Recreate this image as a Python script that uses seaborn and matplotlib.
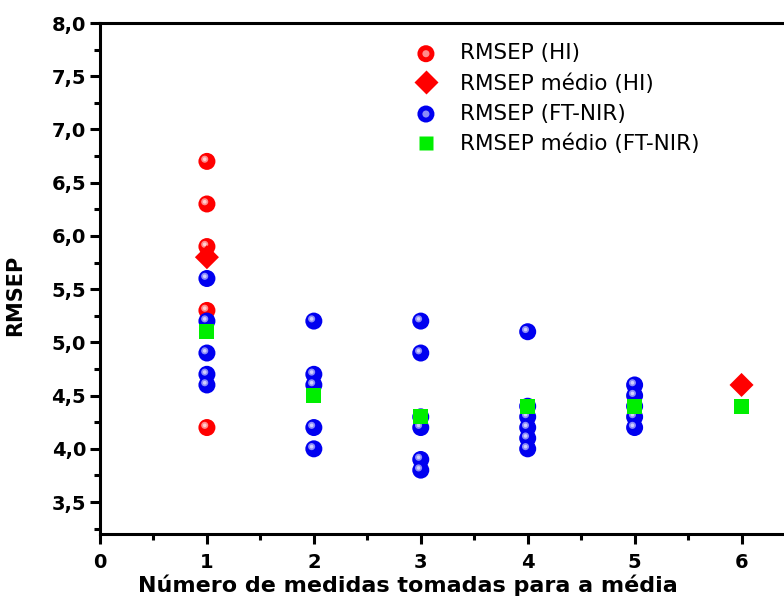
import matplotlib
matplotlib.use("Agg")
import matplotlib.pyplot as plt
import matplotlib.transforms as mtransforms
from matplotlib.ticker import MultipleLocator, FuncFormatter
from matplotlib.legend_handler import HandlerTuple
import seaborn as sns
import pandas as pd

# RMSEP of individual models, by number of measurements averaged
hi_x = [1, 1, 1, 1, 1]
hi_y = [6.7, 6.3, 5.9, 5.3, 4.2]

hi_mean_x = [1, 6]
hi_mean_y = [5.8, 4.6]

nir_x = [1, 1, 1, 1, 1,
         2, 2, 2, 2, 2,
         3, 3, 3, 3, 3, 3,
         4, 4, 4, 4, 4, 4,
         5, 5, 5, 5, 5]
nir_y = [5.6, 5.2, 4.9, 4.7, 4.6,
         5.2, 4.7, 4.6, 4.2, 4.0,
         5.2, 4.9, 4.2, 3.9, 3.8, 4.3,
         5.1, 4.4, 4.3, 4.2, 4.1, 4.0,
         4.6, 4.5, 4.4, 4.3, 4.2]

nir_mean_x = [1, 2, 3, 4, 5, 6]
nir_mean_y = [5.1, 4.5, 4.3, 4.4, 4.4, 4.4]

labels = ["RMSEP (HI)", "RMSEP médio (HI)", "RMSEP (FT-NIR)", "RMSEP médio (FT-NIR)"]

sns.set_theme(style="white")
plt.rcParams["font.family"] = ["DejaVu Sans"]
plt.rcParams["text.color"] = "black"
plt.rcParams["axes.labelcolor"] = "black"
plt.rcParams["xtick.color"] = "black"
plt.rcParams["ytick.color"] = "black"

fig = plt.figure(figsize=(7.84, 6.0), dpi=100)
ax = fig.add_axes([100 / 784, 66 / 600, 695 / 784, 511 / 600])

hi_df = pd.DataFrame({"x": hi_x, "y": hi_y})
hi_mean_df = pd.DataFrame({"x": hi_mean_x, "y": hi_mean_y})
nir_df = pd.DataFrame({"x": nir_x, "y": nir_y})
nir_mean_df = pd.DataFrame({"x": nir_mean_x, "y": nir_mean_y})

sphere_size = 150
shine = mtransforms.offset_copy(ax.transData, fig=fig, x=-2.2, y=2.2, units="dots")

def spheres(df, color, zorder):
    base = ax.scatter(df["x"], df["y"], s=sphere_size, c=color, edgecolors="none", zorder=zorder)
    glow = ax.scatter(df["x"], df["y"], s=26, c="#ffffff", alpha=0.55, edgecolors="none",
                      transform=shine, zorder=zorder + 0.1)
    ax.scatter(df["x"], df["y"], s=7, c="#ffffff", alpha=0.6, edgecolors="none",
               transform=shine, zorder=zorder + 0.2)
    return base, glow

h_hi = spheres(hi_df, "#ff0000", 3)
h_nir = spheres(nir_df, "#0000f0", 4)

sns.scatterplot(data=hi_mean_df, x="x", y="y", ax=ax, marker="D", s=150,
                color="#ff0000", edgecolor="none", zorder=5, legend=False)
sns.scatterplot(data=nir_mean_df, x="x", y="y", ax=ax, marker="s", s=115,
                color="#00ee00", edgecolor="none", zorder=6, legend=False)

h_hi_mean = plt.Line2D([], [], ls="none", marker="D", ms=12, mfc="#ff0000", mec="none")
h_nir_mean = plt.Line2D([], [], ls="none", marker="s", ms=10, mfc="#00ee00", mec="none")

ax.legend([h_hi, h_hi_mean, h_nir, h_nir_mean], labels,
          handler_map={tuple: HandlerTuple(ndivide=1)},
          loc="upper left", bbox_to_anchor=(0.438, 0.977), frameon=False,
          fontsize=15.5, handletextpad=1.0, labelspacing=0.46,
          borderaxespad=0, handlelength=1.2)

ax.set_xlim(0, 6.5)
ax.set_ylim(3.2, 8.0)
ax.xaxis.set_major_locator(MultipleLocator(1))
ax.xaxis.set_minor_locator(MultipleLocator(0.5))
ax.yaxis.set_major_locator(MultipleLocator(0.5))
ax.yaxis.set_minor_locator(MultipleLocator(0.25))
ax.yaxis.set_major_formatter(FuncFormatter(lambda v, p: f"{v:.1f}".replace(".", ",")))
ax.xaxis.set_major_formatter(FuncFormatter(lambda v, p: f"{v:.0f}"))

for s in ["left", "bottom", "top"]:
    ax.spines[s].set_visible(True)
    ax.spines[s].set_linewidth(2.2)
    ax.spines[s].set_color("black")
ax.spines["right"].set_visible(False)

ax.tick_params(axis="both", which="major", direction="out", length=7, width=2.2,
               labelsize=14, left=True, bottom=True, top=False, right=False, pad=3)
ax.tick_params(axis="x", which="major", pad=7)
ax.tick_params(axis="both", which="minor", direction="out", length=4, width=2.2,
               left=True, bottom=True, top=False, right=False)
for t in ax.get_xticklabels() + ax.get_yticklabels():
    t.set_fontweight("bold")

ax.set_xlabel("Número de medidas tomadas para a média", fontsize=16, fontweight="bold")
ax.set_ylabel("RMSEP", fontsize=15, fontweight="bold")
ax.xaxis.label.set_verticalalignment("baseline")
ax.xaxis.set_label_coords(308 / 695, -58 / 511)
ax.yaxis.set_label_coords(-75 / 695, 239 / 511)

fig.savefig("out.png", dpi=100)
